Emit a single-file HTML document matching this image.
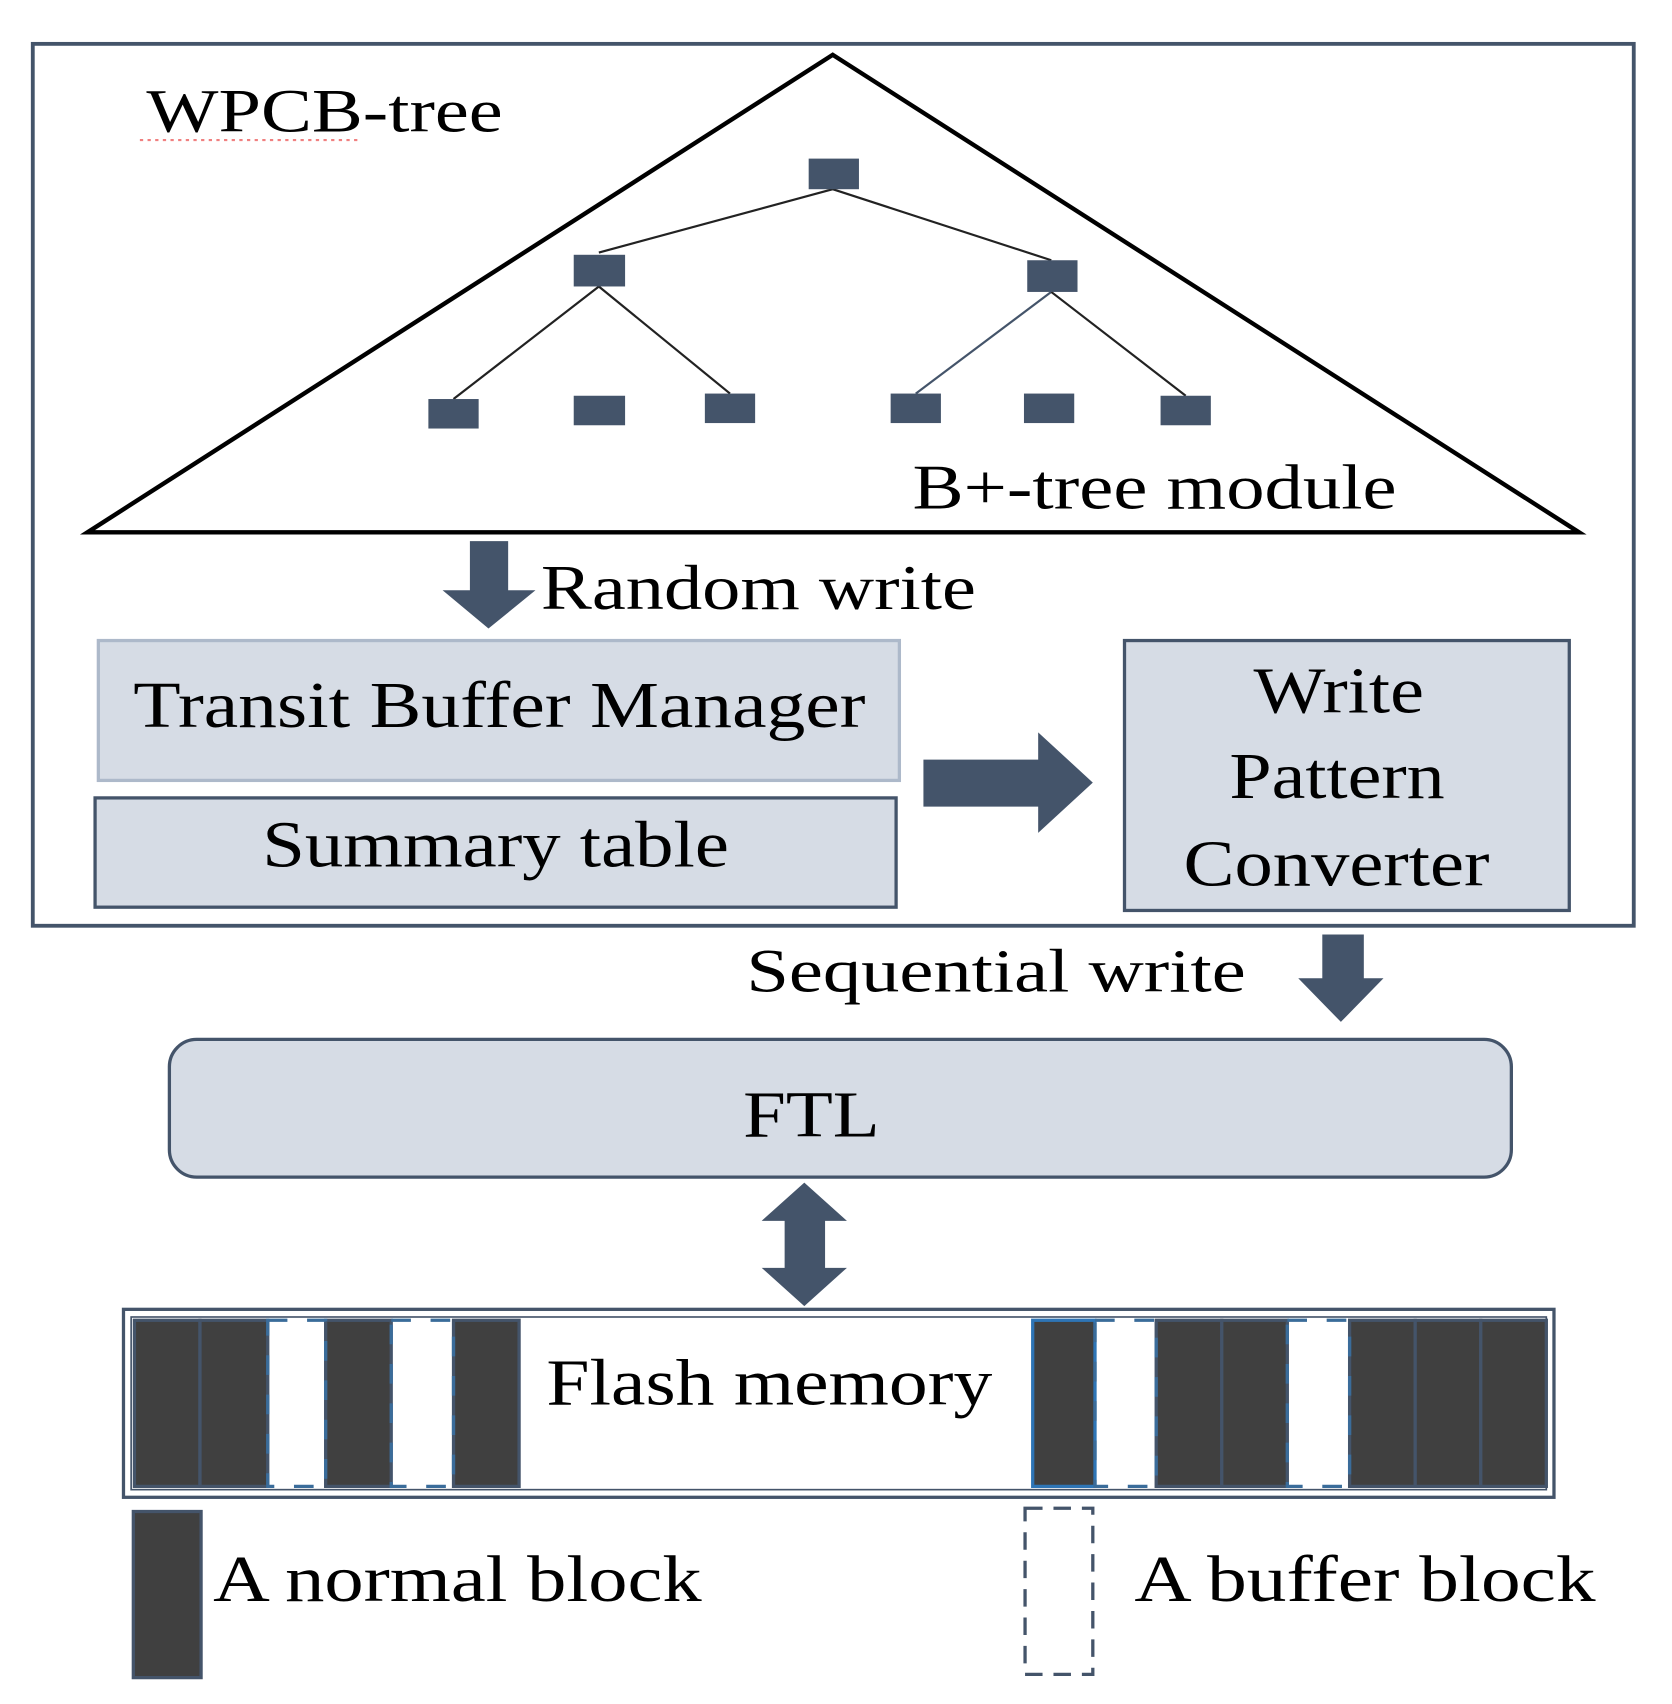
<!DOCTYPE html>
<html><head><meta charset="utf-8"><style>
html,body{margin:0;padding:0;background:#fff;}
svg{display:block;}
text{font-family:"Liberation Serif",serif;fill:#000;}
</style></head><body>
<svg width="1672" height="1704" viewBox="0 0 1530 1559" xmlns="http://www.w3.org/2000/svg">
<rect x="30" y="40" width="1465" height="807" fill="none" stroke="#44546a" stroke-width="3.5"/>
<polygon points="762,50 80,487 1445,487" fill="none" stroke="#000" stroke-width="4"/>
<text x="134" y="120" font-size="56" textLength="326" lengthAdjust="spacingAndGlyphs">WPCB-tree</text>
<line x1="128" y1="128" x2="330" y2="128" stroke="#f08080" stroke-width="2" stroke-dasharray="3,4"/>
<g stroke="#222" stroke-width="2">
<line x1="762" y1="173" x2="548" y2="231"/><line x1="762" y1="173" x2="962" y2="238"/>
<line x1="548" y1="262" x2="415" y2="365"/><line x1="548" y1="262" x2="668" y2="360"/>
<line x1="962" y1="267" x2="838" y2="360" stroke="#44546a"/><line x1="962" y1="267" x2="1085" y2="362"/>
</g>
<g fill="#44546a">
<rect x="740" y="145" width="46" height="28"/>
<rect x="525" y="233" width="47" height="29"/><rect x="940" y="238" width="46" height="29"/>
<rect x="392" y="365" width="46" height="27"/><rect x="525" y="362" width="47" height="27"/>
<rect x="645" y="360" width="46" height="27"/><rect x="815" y="360" width="46" height="27"/>
<rect x="937" y="360" width="46" height="27"/><rect x="1062" y="362" width="46" height="27"/>
</g>
<text x="835" y="465" font-size="58" textLength="443" lengthAdjust="spacingAndGlyphs">B+-tree module</text>
<polygon fill="#44546a" points="430,495 465,495 465,540 490,540 447,575 405,540 430,540"/>
<text x="495" y="557" font-size="58" textLength="398" lengthAdjust="spacingAndGlyphs">Random write</text>
<rect x="90" y="586" width="733" height="128" fill="#d6dce5" stroke="#adb9ca" stroke-width="3"/>
<text x="122" y="665" font-size="60" textLength="670" lengthAdjust="spacingAndGlyphs">Transit Buffer Manager</text>
<rect x="87" y="730" width="733" height="100" fill="#d6dce5" stroke="#44546a" stroke-width="3"/>
<text x="240" y="793" font-size="60" textLength="427" lengthAdjust="spacingAndGlyphs">Summary table</text>
<polygon fill="#44546a" points="845,695 950,695 950,670 1000,716 950,762 950,738 845,738"/>
<rect x="1029" y="586" width="407" height="247" fill="#d6dce5" stroke="#44546a" stroke-width="3"/>
<text x="1147" y="652" font-size="60" textLength="156" lengthAdjust="spacingAndGlyphs">Write</text>
<text x="1125" y="730" font-size="60" textLength="197" lengthAdjust="spacingAndGlyphs">Pattern</text>
<text x="1083" y="810" font-size="60" textLength="280" lengthAdjust="spacingAndGlyphs">Converter</text>
<text x="683" y="907" font-size="56" textLength="457" lengthAdjust="spacingAndGlyphs">Sequential write</text>
<polygon fill="#44546a" points="1210,855 1248,855 1248,895 1266,895 1227,935 1188,895 1210,895"/>
<rect x="155" y="951" width="1228" height="126" rx="25" fill="#d6dce5" stroke="#44546a" stroke-width="3"/>
<text x="680" y="1040" font-size="60" textLength="125" lengthAdjust="spacingAndGlyphs">FTL</text>
<polygon fill="#44546a" points="736,1082 775,1117 755,1117 755,1160 775,1160 736,1195 697,1160 718,1160 718,1117 697,1117"/>
<rect x="113" y="1198" width="1309" height="172" fill="none" stroke="#44546a" stroke-width="3"/>
<rect x="120" y="1205" width="1295" height="158" fill="none" stroke="#44546a" stroke-width="1.5"/>
<g fill="#404040" stroke="#44546a" stroke-width="3">
<rect x="123" y="1208" width="60" height="152"/><rect x="183" y="1208" width="62" height="152"/>
<rect x="298" y="1208" width="60" height="152"/><rect x="415" y="1208" width="60" height="152"/>
<rect x="945" y="1208" width="57" height="152" stroke="#2e75b6"/>
<rect x="1058" y="1208" width="60" height="152"/><rect x="1118" y="1208" width="60" height="152"/>
<rect x="1235" y="1208" width="60" height="152"/><rect x="1295" y="1208" width="60" height="152"/><rect x="1355" y="1208" width="60" height="152"/>
</g>
<g fill="none" stroke="#3a6c9a" stroke-width="3" stroke-dasharray="18,18">
<rect x="245" y="1208" width="53" height="152"/><rect x="358" y="1208" width="57" height="152"/>
<rect x="1002" y="1208" width="56" height="152"/><rect x="1178" y="1208" width="57" height="152"/>
</g>
<text x="500" y="1285" font-size="60" textLength="408" lengthAdjust="spacingAndGlyphs">Flash memory</text>
<rect x="122" y="1383" width="62" height="152" fill="#404040" stroke="#44546a" stroke-width="3"/>
<text x="195" y="1465" font-size="60" textLength="447" lengthAdjust="spacingAndGlyphs">A normal block</text>
<rect x="938" y="1380" width="62" height="152" fill="none" stroke="#44546a" stroke-width="3" stroke-dasharray="16,10"/>
<text x="1038" y="1465" font-size="60" textLength="422" lengthAdjust="spacingAndGlyphs">A buffer block</text>
</svg>
</body></html>
